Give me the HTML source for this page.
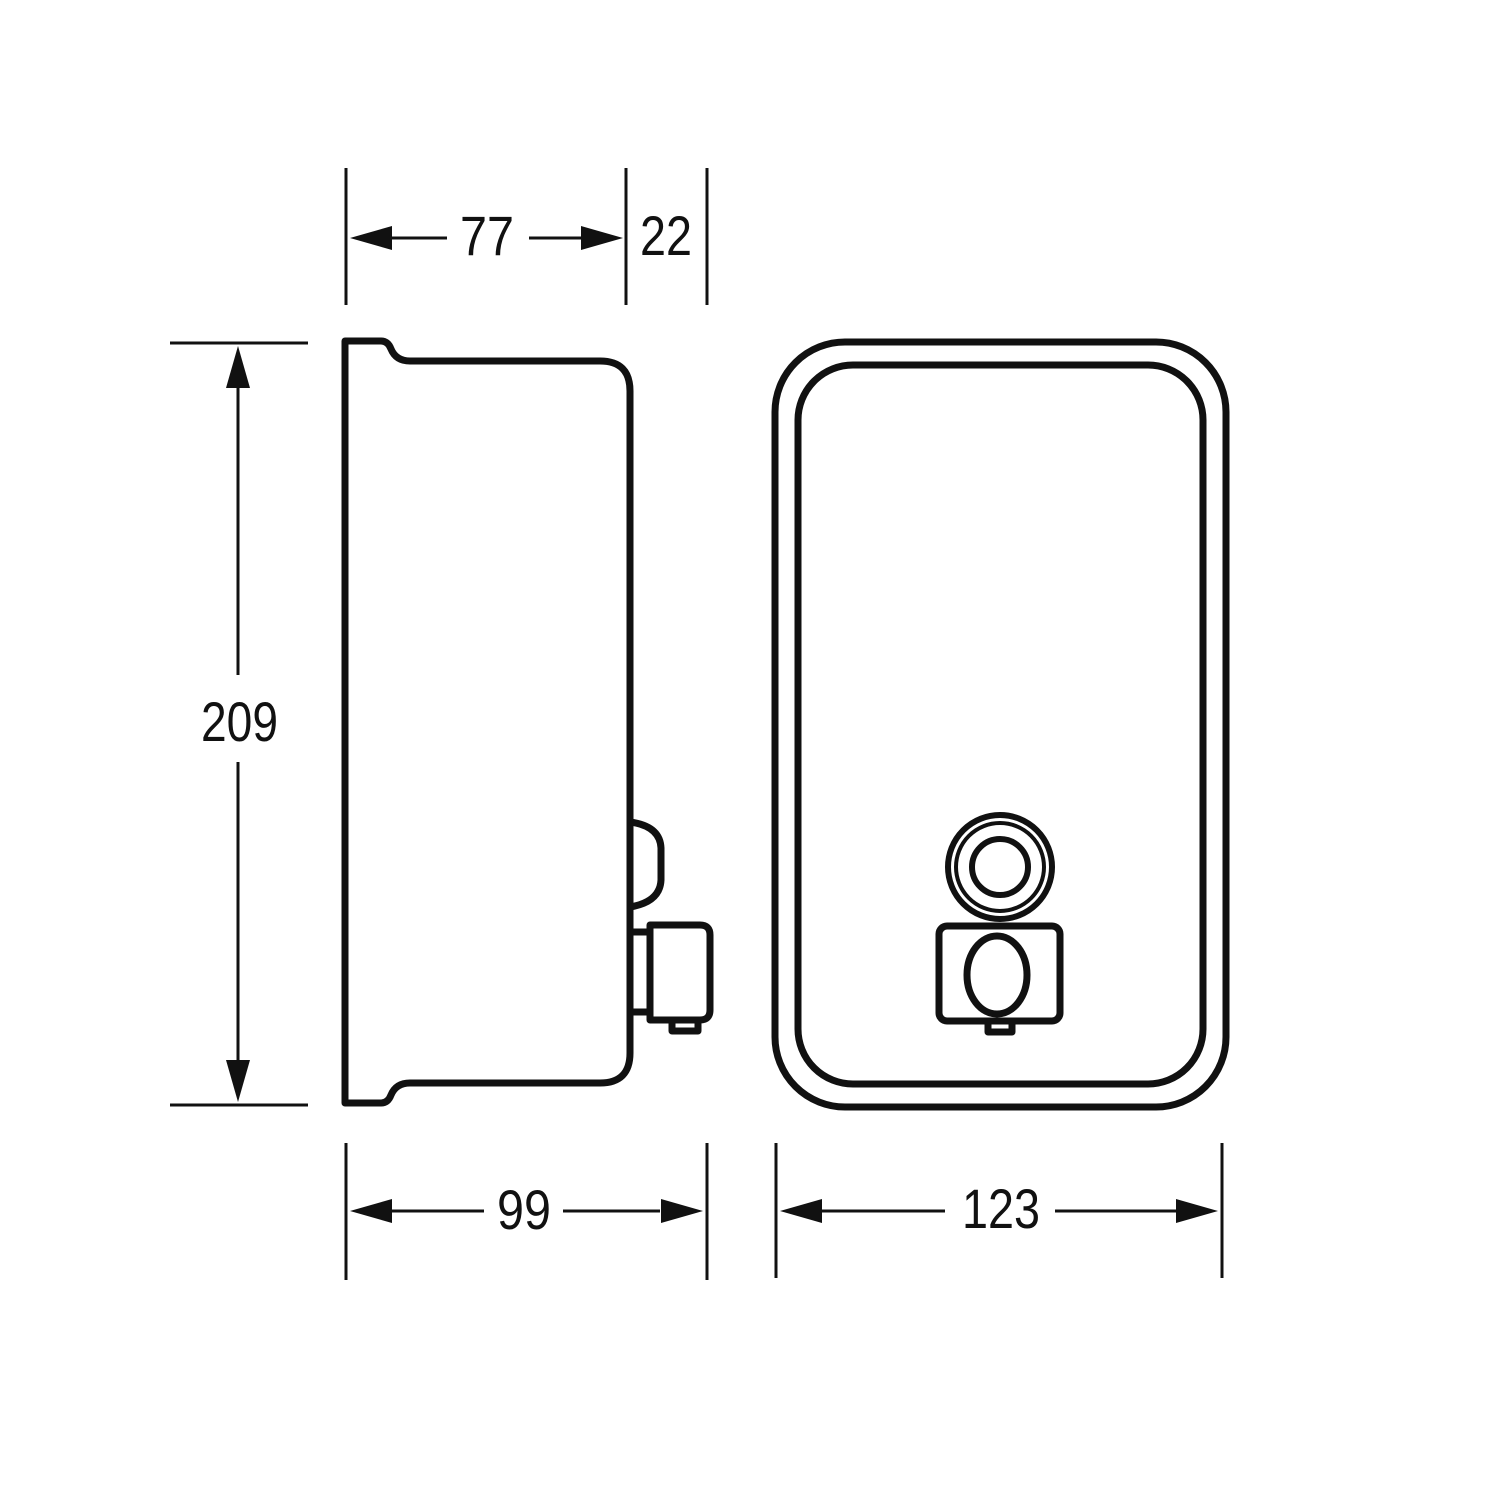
<!DOCTYPE html>
<html><head><meta charset="utf-8"><style>
html,body{margin:0;padding:0;background:#fff;}
svg{display:block;}
text{font-family:"Liberation Sans Narrow","Liberation Sans",sans-serif;font-size:56px;fill:#111;}
</style></head><body>
<svg width="1500" height="1500" viewBox="0 0 1500 1500" xmlns="http://www.w3.org/2000/svg">
<g fill="none" stroke="#111" stroke-width="3">
  <!-- top dims -->
  <line x1="346" y1="168" x2="346" y2="305"/>
  <line x1="626" y1="168" x2="626" y2="305"/>
  <line x1="707" y1="168" x2="707" y2="305"/>
  <line x1="390" y1="238" x2="447" y2="238"/>
  <line x1="529" y1="238" x2="585" y2="238"/>
  <!-- left dim -->
  <line x1="170" y1="343" x2="308" y2="343"/>
  <line x1="170" y1="1105" x2="308" y2="1105"/>
  <line x1="238" y1="385" x2="238" y2="675"/>
  <line x1="238" y1="762" x2="238" y2="1063"/>
  <!-- bottom dims -->
  <line x1="346" y1="1143" x2="346" y2="1280"/>
  <line x1="707" y1="1143" x2="707" y2="1280"/>
  <line x1="776" y1="1143" x2="776" y2="1278"/>
  <line x1="1222" y1="1143" x2="1222" y2="1278"/>
  <line x1="390" y1="1211" x2="484" y2="1211"/>
  <line x1="563" y1="1211" x2="660" y2="1211"/>
  <line x1="820" y1="1211" x2="945" y2="1211"/>
  <line x1="1055" y1="1211" x2="1180" y2="1211"/>
</g>
<g fill="#111">
  <polygon points="350,238 392,226 392,250"/>
  <polygon points="623,238 581,226 581,250"/>
  <polygon points="238,346 226,388 250,388"/>
  <polygon points="238,1102 226,1060 250,1060"/>
  <polygon points="350,1211 392,1199 392,1223"/>
  <polygon points="703,1211 661,1199 661,1223"/>
  <polygon points="780,1211 822,1199 822,1223"/>
  <polygon points="1218,1211 1176,1199 1176,1223"/>
</g>
<text x="460" y="255" textLength="54" lengthAdjust="spacingAndGlyphs">77</text>
<text x="640" y="255" textLength="52" lengthAdjust="spacingAndGlyphs">22</text>
<text x="201" y="741" textLength="77" lengthAdjust="spacingAndGlyphs">209</text>
<text x="497" y="1229" textLength="54" lengthAdjust="spacingAndGlyphs">99</text>
<text x="962" y="1228" textLength="78" lengthAdjust="spacingAndGlyphs">123</text>

<g fill="none" stroke="#111" stroke-width="7" stroke-linejoin="round">
  <!-- side view body -->
  <path d="M345,341 L381,341 Q388,341 391,349 Q396,361 410,361 L600,361 Q630,361 630,391 L630,1053 Q630,1083 600,1083 L410,1083 Q396,1083 391,1095 Q388,1103 381,1103 L345,1103 Z"/>
  <!-- side button -->
  <path d="M630,822 Q660,826 661,848 L661,880 Q660,902 630,907"/>
  <!-- nozzle -->
  <path d="M630,932 L650,932 M630,1012 L650,1012"/>
  <path d="M650,925 L700,925 Q710,925 710,935 L710,1010 Q710,1020 700,1020 L650,1020 Z"/>
  <rect x="672" y="1020" width="26" height="11"/>
  <!-- front view -->
  <rect x="775" y="342" width="451" height="765" rx="70"/>
  <rect x="798" y="365" width="405" height="719" rx="55"/>
  <circle cx="1000" cy="867" r="52" stroke-width="6"/>
  <circle cx="1000" cy="867" r="44" stroke-width="4"/>
  <circle cx="1000" cy="867" r="28" stroke-width="6"/>
  <rect x="939" y="926" width="121" height="95" rx="8"/>
  <ellipse cx="997" cy="975" rx="30" ry="39"/>
  <rect x="988" y="1021" width="24" height="11"/>
</g>
</svg>
</body></html>
